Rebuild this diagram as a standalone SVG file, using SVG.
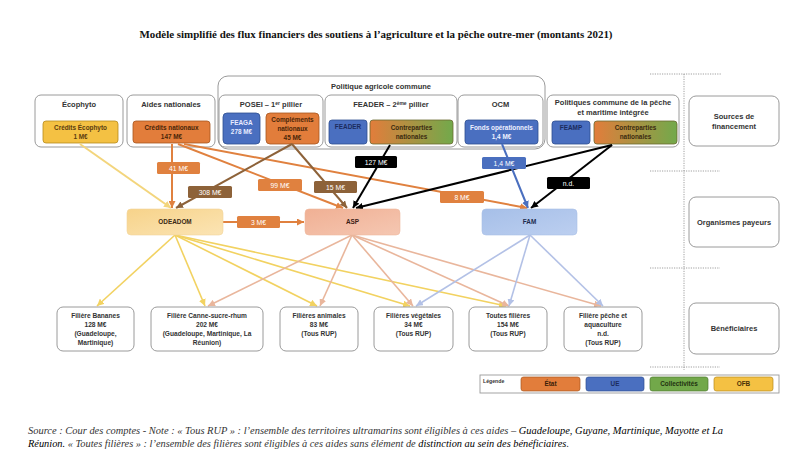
<svg xmlns="http://www.w3.org/2000/svg" width="800" height="476" viewBox="0 0 800 476">
<style>
text{font-family:"Liberation Sans",Arial,sans-serif;font-weight:bold;text-anchor:middle}
.title{font-family:"Liberation Serif","Times New Roman",serif;font-size:10.5px;fill:#111}
.foot{font-family:"Liberation Serif","Times New Roman",serif;font-style:italic;font-weight:normal;font-size:10px;fill:#333;text-anchor:start}
.fb{fill:#000}
.h{font-size:7.5px;fill:#333}
.i{font-size:6.4px}
.bt{font-size:6.6px;fill:#333}
.lb{font-size:6.8px;font-weight:normal;fill:#fff}
.box{fill:#fff;stroke:#8e8e8e;stroke-width:0.9}
.dot{stroke:#888;stroke-width:0.8;stroke-dasharray:1.2 1.2;fill:none}
.c{fill:none;stroke-width:2}
.cl{fill:none;stroke-width:1.6}
</style>
<defs>
<linearGradient id="gcn" x1="0" x2="1" y1="0" y2="0"><stop offset="0" stop-color="#e27d3b"/><stop offset="1" stop-color="#72a94b"/></linearGradient>
<linearGradient id="god" x1="0" x2="1" y1="0" y2="1"><stop offset="0" stop-color="#f7d38a"/><stop offset="1" stop-color="#fbe4b4"/></linearGradient>
<linearGradient id="gasp" x1="0" x2="1" y1="0" y2="1"><stop offset="0" stop-color="#f0b094"/><stop offset="1" stop-color="#f5c7b2"/></linearGradient>
<linearGradient id="gfam" x1="0" x2="1" y1="0" y2="1"><stop offset="0" stop-color="#a6bfe8"/><stop offset="1" stop-color="#bccff0"/></linearGradient>
<marker id="mo" viewBox="0 0 8 8" refX="8" refY="4" markerWidth="7" markerHeight="7" markerUnits="userSpaceOnUse" orient="auto"><path d="M0,0L8,4L0,8z" fill="#e0813f"/></marker>
<marker id="mbr" viewBox="0 0 8 8" refX="8" refY="4" markerWidth="7" markerHeight="7" markerUnits="userSpaceOnUse" orient="auto"><path d="M0,0L8,4L0,8z" fill="#8d6239"/></marker>
<marker id="mk" viewBox="0 0 8 8" refX="8" refY="4" markerWidth="7" markerHeight="7" markerUnits="userSpaceOnUse" orient="auto"><path d="M0,0L8,4L0,8z" fill="#000"/></marker>
<marker id="mb" viewBox="0 0 8 8" refX="8" refY="4" markerWidth="7" markerHeight="7" markerUnits="userSpaceOnUse" orient="auto"><path d="M0,0L8,4L0,8z" fill="#4a6fbf"/></marker>
<marker id="mey" viewBox="0 0 8 8" refX="8" refY="4" markerWidth="7" markerHeight="7" markerUnits="userSpaceOnUse" orient="auto"><path d="M0,0L8,4L0,8z" fill="#f3d57c"/></marker>
<marker id="my" viewBox="0 0 8 8" refX="8" refY="4" markerWidth="7" markerHeight="7" markerUnits="userSpaceOnUse" orient="auto"><path d="M0,0L8,4L0,8z" fill="#f2d261"/></marker>
<marker id="ms" viewBox="0 0 8 8" refX="8" refY="4" markerWidth="7" markerHeight="7" markerUnits="userSpaceOnUse" orient="auto"><path d="M0,0L8,4L0,8z" fill="#e9b69c"/></marker>
<marker id="mlb" viewBox="0 0 8 8" refX="8" refY="4" markerWidth="7" markerHeight="7" markerUnits="userSpaceOnUse" orient="auto"><path d="M0,0L8,4L0,8z" fill="#b3c1e6"/></marker>
</defs>
<rect width="800" height="476" fill="#fff"/>
<text class="title" x="376" y="38" textLength="473" lengthAdjust="spacingAndGlyphs">Modèle simplifié des flux financiers des soutiens à l’agriculture et la pêche outre-mer (montants 2021)</text>

<g id="guides">
<path class="dot" d="M650,74H722M684,74V370M650,171H720M650,268H720M650,367H720"/>
</g>

<g id="pac">
<rect x="218" y="76" width="327" height="73" rx="10" class="box"/>
<text class="h" x="381" y="89">Politique agricole commune</text>
</g>
<g id="ecophyto">
<rect x="35" y="95" width="88" height="52" rx="6" class="box"/>
<text class="h" x="79" y="107">Écophyto</text>
<rect x="43" y="121" width="75" height="22" rx="3" fill="#f4c143" stroke="#b68a1c" stroke-width="0.8"/>
<text class="i" x="80.5" y="130" fill="#5a3c10">Crédits Écophyto</text>
<text class="i" x="80.5" y="139" fill="#5a3c10">1 M€</text>
</g>
<g id="aides">
<rect x="127" y="95" width="88" height="52" rx="6" class="box"/>
<text class="h" x="171" y="107">Aides nationales</text>
<rect x="133" y="121" width="77" height="22" rx="3" fill="#e27d3b" stroke="#a7561f" stroke-width="0.8"/>
<text class="i" x="171.5" y="130" fill="#4a2508">Crédits nationaux</text>
<text class="i" x="171.5" y="139" fill="#4a2508">147 M€</text>
</g>
<g id="posei">
<rect x="219" y="95" width="104" height="52" rx="6" class="box"/>
<text class="h" x="271" y="107">POSEI – 1<tspan font-size="5" dy="-2.5">er</tspan><tspan dy="2.5"> pillier</tspan></text>
<rect x="223" y="113" width="37" height="31" rx="4" fill="#4a6fc0" stroke="#2f4f91" stroke-width="0.8"/>
<text class="i" x="241.5" y="125" fill="#e8ecff">FEAGA</text>
<text class="i" x="241.5" y="134" fill="#e8ecff">278 M€</text>
<rect x="266" y="113" width="53" height="31" rx="4" fill="#e27d3b" stroke="#a7561f" stroke-width="0.8"/>
<text class="i" x="292.5" y="122" fill="#4a2508" font-size="5.8">Compléments</text>
<text class="i" x="292.5" y="130.5" fill="#4a2508" font-size="5.8">nationaux</text>
<text class="i" x="292.5" y="139.5" fill="#4a2508" font-size="5.8">45 M€</text>
</g>
<g id="feader">
<rect x="325" y="95" width="132" height="52" rx="6" class="box"/>
<text class="h" x="391" y="107">FEADER – 2<tspan font-size="5" dy="-2.5">ème</tspan><tspan dy="2.5"> pillier</tspan></text>
<rect x="329" y="120" width="38" height="24" rx="3" fill="#4a6fc0" stroke="#2f4f91" stroke-width="0.8"/>
<text class="i" x="348" y="129" fill="#1c2c5e">FEADER</text>
<rect x="370" y="120" width="83" height="24" rx="3" fill="url(#gcn)" stroke="#6a6a30" stroke-width="0.8"/>
<text class="i" x="411.5" y="130" fill="#3a2a10">Contreparties</text>
<text class="i" x="411.5" y="139" fill="#3a2a10">nationales</text>
</g>
<g id="ocm">
<rect x="458" y="95" width="85" height="52" rx="6" class="box"/>
<text class="h" x="500.5" y="107">OCM</text>
<rect x="465" y="120" width="73" height="24" rx="3" fill="#4a6fc0" stroke="#2f4f91" stroke-width="0.8"/>
<text class="i" x="501.5" y="130" fill="#eef1ff">Fonds opérationnels</text>
<text class="i" x="501.5" y="139" fill="#eef1ff">1,4 M€</text>
</g>
<g id="pcp">
<rect x="547" y="95" width="132" height="52" rx="6" class="box"/>
<text class="h" x="613" y="105">Politiques commune de la pêche</text>
<text class="h" x="613" y="115">et maritime intégrée</text>
<rect x="552" y="121" width="38" height="23" rx="3" fill="#4a6fc0" stroke="#2f4f91" stroke-width="0.8"/>
<text class="i" x="571" y="130" fill="#1c2c5e">FEAMP</text>
<rect x="594" y="121" width="83" height="23" rx="3" fill="url(#gcn)" stroke="#6a6a30" stroke-width="0.8"/>
<text class="i" x="635.5" y="130" fill="#3a2a10">Contreparties</text>
<text class="i" x="635.5" y="139" fill="#3a2a10">nationales</text>
</g>

<g id="lab-sources">
<rect x="689" y="96" width="90" height="50" rx="7" class="box"/>
<text class="h" x="734" y="119">Sources de</text>
<text class="h" x="734" y="129">financement</text>
</g>
<g id="lab-organismes">
<rect x="689" y="197" width="90" height="50" rx="7" class="box"/>
<text class="h" x="734" y="224.5">Organismes payeurs</text>
</g>
<g id="lab-beneficiaires">
<rect x="689" y="303" width="90" height="51" rx="7" class="box"/>
<text class="h" x="734" y="331">Bénéficiaires</text>
</g>

<g id="connectors">
<g>
<line class="cl" x1="175" y1="235" x2="97" y2="306" stroke="#f2d261" marker-end="url(#my)"/>
<line class="cl" x1="175" y1="235" x2="205" y2="306" stroke="#f2d261" marker-end="url(#my)"/>
<line class="cl" x1="175" y1="235" x2="317" y2="306" stroke="#f2d261" marker-end="url(#my)"/>
<line class="cl" x1="175" y1="235" x2="410" y2="306" stroke="#f2d261" marker-end="url(#my)"/>
<line class="cl" x1="175" y1="235" x2="506" y2="306" stroke="#f2d261" marker-end="url(#my)"/>
<line class="cl" x1="352" y1="235" x2="208" y2="306" stroke="#e9b69c" marker-end="url(#ms)"/>
<line class="cl" x1="352" y1="235" x2="320" y2="306" stroke="#e9b69c" marker-end="url(#ms)"/>
<line class="cl" x1="352" y1="235" x2="413" y2="306" stroke="#e9b69c" marker-end="url(#ms)"/>
<line class="cl" x1="352" y1="235" x2="509" y2="306" stroke="#e9b69c" marker-end="url(#ms)"/>
<line class="cl" x1="352" y1="235" x2="601" y2="306" stroke="#e9b69c" marker-end="url(#ms)"/>
<line class="cl" x1="530" y1="235" x2="416" y2="306" stroke="#b3c1e6" marker-end="url(#mlb)"/>
<line class="cl" x1="530" y1="235" x2="509" y2="306" stroke="#b3c1e6" marker-end="url(#mlb)"/>
<line class="cl" x1="530" y1="235" x2="603" y2="306" stroke="#b3c1e6" marker-end="url(#mlb)"/>
</g>
<line class="c" x1="80" y1="144" x2="171" y2="208" stroke="#f3d57c" marker-end="url(#mey)"/>
<line class="c" x1="172" y1="144" x2="172" y2="208" stroke="#e0813f" marker-end="url(#mo)"/>
<line class="c" x1="178" y1="144" x2="343" y2="208" stroke="#e0813f" marker-end="url(#mo)"/>
<line class="c" x1="184" y1="144" x2="527" y2="208" stroke="#e0813f" marker-end="url(#mo)"/>
<line class="c" x1="292" y1="144" x2="176" y2="208" stroke="#8d6239" marker-end="url(#mbr)"/>
<line class="c" x1="292" y1="144" x2="347" y2="208" stroke="#8d6239" marker-end="url(#mbr)"/>
<line class="c" x1="390" y1="145" x2="353" y2="208" stroke="#000" marker-end="url(#mk)"/>
<line class="c" x1="612" y1="145" x2="356" y2="208" stroke="#000" marker-end="url(#mk)"/>
<line class="c" x1="612" y1="145" x2="531" y2="208" stroke="#000" marker-end="url(#mk)"/>
<line class="c" x1="502" y1="144" x2="528" y2="208" stroke="#4a6fbf" marker-end="url(#mb)"/>
<line class="c" x1="223" y1="222" x2="304" y2="222" stroke="#e0813f" marker-end="url(#mo)"/>
<g id="flow-labels">
<rect x="157" y="162" width="43" height="12" rx="1.5" fill="#e0813f"/><text class="lb" x="178.5" y="170.5">41 M€</text>
<rect x="188" y="186" width="44" height="12" rx="1.5" fill="#8d6239"/><text class="lb" x="210" y="194.5" fill="#e6ddd2">308 M€</text>
<rect x="258" y="179" width="44" height="12" rx="1.5" fill="#e0813f"/><text class="lb" x="280" y="187.5">99 M€</text>
<rect x="314" y="181" width="43" height="12" rx="1.5" fill="#8d6239"/><text class="lb" x="335.5" y="189.5" fill="#e6ddd2">15 M€</text>
<rect x="355" y="156" width="42" height="12" rx="1.5" fill="#000"/><text class="lb" x="376" y="164.5">127 M€</text>
<rect x="482" y="157" width="44" height="12" rx="1.5" fill="#4a6fbf"/><text class="lb" x="504" y="165.5" fill="#1c2c5e">1,4 M€</text>
<rect x="547" y="177" width="43" height="12" rx="1.5" fill="#000"/><text class="lb" x="568.5" y="185.5">n.d.</text>
<rect x="440" y="191" width="44" height="12" rx="1.5" fill="#e0813f"/><text class="lb" x="462" y="199.5">8 M€</text>
<rect x="237" y="216" width="43" height="12" rx="1.5" fill="#e0813f"/><text class="lb" x="258.5" y="224.5">3 M€</text>
</g>
</g>

<g id="odeadom">
<rect x="127" y="209" width="96" height="26" rx="4" fill="url(#god)" stroke="#f1d59c" stroke-width="0.6"/>
<text class="i" x="175" y="224.2" fill="#3a2a14">ODEADOM</text>
</g>
<g id="asp">
<rect x="305" y="209" width="95" height="26" rx="4" fill="url(#gasp)" stroke="#eeb89f" stroke-width="0.6"/>
<text class="i" x="352.5" y="224.2" fill="#3a2014">ASP</text>
</g>
<g id="fam">
<rect x="482" y="209" width="95" height="26" rx="4" fill="url(#gfam)" stroke="#a9c0e6" stroke-width="0.6"/>
<text class="i" x="529.5" y="224.2" fill="#1c2c4e">FAM</text>
</g>

<g id="bananes">
<rect x="57" y="307" width="77" height="44" rx="6" class="box"/>
<text class="bt" x="95.5" y="318">Filière Bananes</text>
<text class="bt" x="95.5" y="327">128 M€</text>
<text class="bt" x="95.5" y="335.5">(Guadeloupe,</text>
<text class="bt" x="95.5" y="344.5">Martinique)</text>
</g>
<g id="canne">
<rect x="151" y="307" width="112" height="44" rx="6" class="box"/>
<text class="bt" x="207" y="318">Filière Canne-sucre-rhum</text>
<text class="bt" x="207" y="327">202 M€</text>
<text class="bt" x="207" y="335.5">(Guadeloupe, Martinique, La</text>
<text class="bt" x="207" y="344.5">Réunion)</text>
</g>
<g id="animales">
<rect x="280" y="307" width="78" height="44" rx="6" class="box"/>
<text class="bt" x="319" y="318">Filières animales</text>
<text class="bt" x="319" y="327">83 M€</text>
<text class="bt" x="319" y="335.5">(Tous RUP)</text>
</g>
<g id="vegetales">
<rect x="374" y="307" width="79" height="44" rx="6" class="box"/>
<text class="bt" x="413.5" y="318">Filières végétales</text>
<text class="bt" x="413.5" y="327">34 M€</text>
<text class="bt" x="413.5" y="335.5">(Tous RUP)</text>
</g>
<g id="toutes">
<rect x="469" y="307" width="78" height="44" rx="6" class="box"/>
<text class="bt" x="508" y="318">Toutes filières</text>
<text class="bt" x="508" y="327">154 M€</text>
<text class="bt" x="508" y="335.5">(Tous RUP)</text>
</g>
<g id="peche">
<rect x="564" y="307" width="78" height="44" rx="6" class="box"/>
<text class="bt" x="603" y="318">Filière pêche et</text>
<text class="bt" x="603" y="327">aquaculture</text>
<text class="bt" x="603" y="335.5">n.d.</text>
<text class="bt" x="603" y="344.5">(Tous RUP)</text>
</g>

<g id="legend">
<rect x="480" y="375" width="299" height="18" fill="#fff" stroke="#9a9a9a" stroke-width="0.9"/>
<text x="483" y="383" font-size="5.2" font-weight="normal" fill="#333" style="text-anchor:start">Légende</text>
<rect x="521" y="377" width="59" height="14" rx="2.5" fill="#e27d3b" stroke="#a7561f" stroke-width="0.7"/>
<text class="i" x="550.5" y="386.3" fill="#3a2008">État</text>
<rect x="586" y="377" width="58" height="14" rx="2.5" fill="#4a6fc0" stroke="#2f4f91" stroke-width="0.7"/>
<text class="i" x="615" y="386.3" fill="#1c2c5e">UE</text>
<rect x="650" y="377" width="58" height="14" rx="2.5" fill="#72a84a" stroke="#4f7a2f" stroke-width="0.7"/>
<text class="i" x="679" y="386.3" fill="#1f3210">Collectivités</text>
<rect x="714" y="377" width="59" height="14" rx="2.5" fill="#f4c143" stroke="#b68a1c" stroke-width="0.7"/>
<text class="i" x="743.5" y="386.3" fill="#4a3208">OFB</text>
</g>

<text class="foot" x="28" y="434" textLength="695" lengthAdjust="spacingAndGlyphs">Source : Cour des comptes - Note : « Tous RUP » : l’ensemble des territoires ultramarins sont éligibles à ces aides – <tspan class="fb">Guadeloupe, Guyane, Martinique, Mayotte et La</tspan></text>
<text class="foot" x="28" y="447" textLength="541" lengthAdjust="spacingAndGlyphs"><tspan class="fb">Réunion.</tspan> « Toutes filières » : l’ensemble des filières sont éligibles à ces aides sans élément de <tspan class="fb">distinction au sein des bénéficiaires</tspan>.</text>
</svg>
